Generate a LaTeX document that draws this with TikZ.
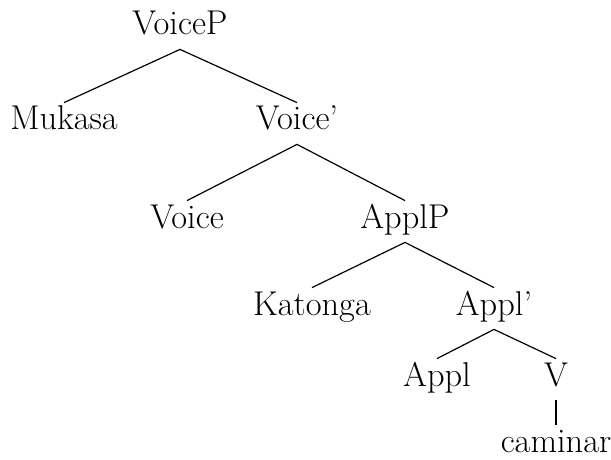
\documentclass[tikz,border=0pt]{standalone}
\begin{document}
\begin{tikzpicture}[x=0.5pt,y=-0.5pt,
  lbl/.style={anchor=base,font=\fontsize{17.2pt}{20pt}\selectfont,text height=12.5pt,text depth=6pt,inner xsep=0pt,inner ysep=1pt},
  edge/.style={line width=0.6pt}]
\useasboundingbox (0,0) rectangle (611,460);
\node[lbl] (voicep) at (180,35) {VoiceP};
\node[lbl] (mukasa) at (64,130) {Mukasa};
\node[lbl] (voicebar) at (297,130) {Voice'};
\node[lbl] (voice) at (187,228) {Voice};
\node[lbl] (applp) at (405,228) {ApplP};
\node[lbl] (katonga) at (312,315) {Katonga};
\node[lbl] (applbar) at (494,315) {Appl'};
\node[lbl] (appl) at (437,386) {Appl};
\node[lbl] (v) at (556,386) {V};
\node[lbl] (caminar) at (556,452) {caminar};
\draw[edge] (voicep.south) -- (mukasa.north);
\draw[edge] (voicep.south) -- (voicebar.north);
\draw[edge] (voicebar.south) -- (voice.north);
\draw[edge] (voicebar.south) -- (applp.north);
\draw[edge] (applp.south) -- (katonga.north);
\draw[edge] (applp.south) -- (applbar.north);
\draw[edge] (applbar.south) -- (appl.north);
\draw[edge] (applbar.south) -- (v.north);
\draw[edge] (v.south) -- (caminar.north);
\end{tikzpicture}
\end{document}
